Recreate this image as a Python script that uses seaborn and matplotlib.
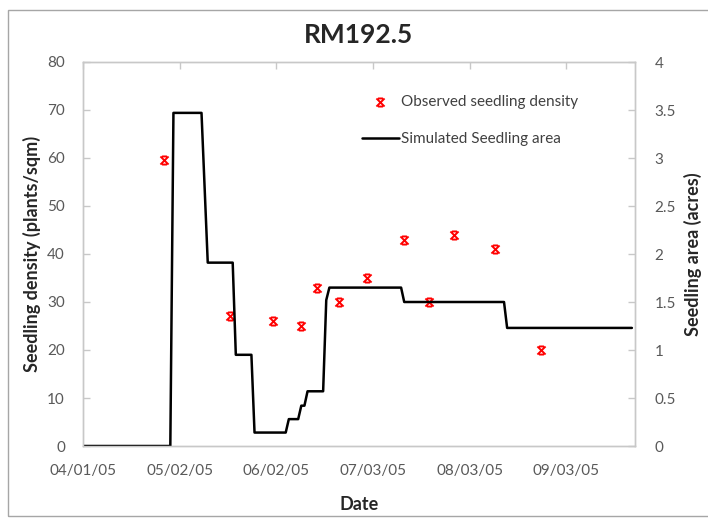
import matplotlib
matplotlib.use("Agg")
import matplotlib.pyplot as plt
import matplotlib.dates as mdates
from matplotlib.ticker import FuncFormatter, MultipleLocator
from matplotlib.patches import Rectangle
from matplotlib.path import Path
import pandas as pd
import seaborn as sns

sns.set_style("white")
plt.rcParams['font.family'] = ['Lato', 'DejaVu Sans']

# Observed seedling density (plants/sqm)
obs_dates = ['2005-04-27', '2005-05-18', '2005-06-01', '2005-06-10', '2005-06-15', '2005-06-22',
             '2005-07-01', '2005-07-13', '2005-07-21', '2005-07-29', '2005-08-11', '2005-08-26']
obs_density = [59.5, 27, 26, 25, 33, 30, 35, 43, 30, 44, 41, 20]

# Simulated seedling area (acres), vertices of the curve
sim_dates = ['2005-04-01', '2005-04-29', '2005-04-30', '2005-05-09', '2005-05-11', '2005-05-19',
             '2005-05-20', '2005-05-25', '2005-05-26', '2005-06-05', '2005-06-06', '2005-06-09',
             '2005-06-10', '2005-06-11', '2005-06-12', '2005-06-17', '2005-06-18', '2005-06-19',
             '2005-07-12', '2005-07-13', '2005-08-14', '2005-08-15', '2005-09-24']
sim_area = [0, 0, 3.47, 3.47, 1.91, 1.91,
            0.95, 0.95, 0.14, 0.14, 0.28, 0.28,
            0.42, 0.42, 0.57, 0.57, 1.52, 1.65,
            1.65, 1.5, 1.5, 1.23, 1.23]

tick_dates = ['2005-04-01', '2005-05-02', '2005-06-02', '2005-07-03', '2005-08-03', '2005-09-03']

df_obs = pd.DataFrame({'Date': pd.to_datetime(obs_dates), 'Density': obs_density})
df_sim = pd.DataFrame({'Date': pd.to_datetime(sim_dates), 'Area': sim_area})

# Excel-like star marker: an X with short bars on top and bottom
star = Path([(-1, -1), (1, 1), (-1, 1), (1, -1), (-0.6, 1), (0.6, 1), (-0.6, -1), (0.6, -1)],
            [Path.MOVETO, Path.LINETO] * 4)

fig = plt.figure(figsize=(7.08, 5.18), dpi=100)
ax = fig.add_axes([83 / 708, 1 - 446 / 518, 552 / 708, 384 / 518])
ax2 = ax.twinx()

# outer chart border
fig.patches.append(Rectangle((8 / 708, 2 / 518), 1.2, 1 - 12 / 518, transform=fig.transFigure,
                             fill=False, edgecolor='#a6a6a6', linewidth=1))

sns.scatterplot(ax=ax, data=df_obs, x='Date', y='Density', marker=star, s=34,
                color='red', edgecolor='red', linewidth=1.4, zorder=4,
                label='Observed seedling density', legend=False)
sns.lineplot(ax=ax2, data=df_sim, x='Date', y='Area', color='black', linewidth=1.8,
             label='Simulated Seedling area', legend=False)

ax.set_xlim(pd.Timestamp('2005-04-01'), pd.Timestamp('2005-09-25'))
ax.set_ylim(0, 80)
ax2.set_ylim(0, 4)
ax.yaxis.set_major_locator(MultipleLocator(10))
ax2.yaxis.set_major_locator(MultipleLocator(0.5))
ax2.yaxis.set_major_formatter(FuncFormatter(lambda v, p: f'{v:g}'))
ax.set_xticks(pd.to_datetime(tick_dates))
ax.xaxis.set_major_formatter(mdates.DateFormatter('%m/%d/%y'))

spine_col = '#c8c8c8'
for a in (ax, ax2):
    for s in a.spines.values():
        s.set_color(spine_col)
        s.set_linewidth(1)
ax.tick_params(axis='x', direction='in', length=5, width=1, color=spine_col, top=True,
               labelsize=11, labelcolor='#595959', pad=13)
ax.tick_params(axis='y', direction='in', length=5, width=1, color=spine_col,
               labelsize=11, labelcolor='#595959', pad=13)
ax2.tick_params(axis='y', direction='in', length=5, width=1, color=spine_col,
                labelsize=11, labelcolor='#595959', pad=14)

ax.set_title('RM192.5', fontsize=19, fontweight='bold', pad=14)
ax.set_xlabel('Date', fontsize=13, fontweight='bold')
ax.xaxis.set_label_coords(0.5, -0.13)
ax.set_ylabel('Seedling density (plants/sqm)', fontsize=13, fontweight='bold', va='center')
ax.yaxis.set_label_coords(-0.092, 0.5)
ax2.set_ylabel('Seedling area (acres)', fontsize=13, fontweight='bold', va='center', rotation=90)
ax2.yaxis.set_label_coords(1.105, 0.5)

h1, l1 = ax.get_legend_handles_labels()
h2, l2 = ax2.get_legend_handles_labels()
leg = ax2.legend(h1 + h2, l1 + l2, loc='upper left', bbox_to_anchor=(362 / 708, 1 - 95 / 518),
                 bbox_transform=fig.transFigure, frameon=False, fontsize=11,
                 handlelength=2.4, handletextpad=0.15, labelspacing=1.5,
                 borderpad=0, borderaxespad=0)
for t in leg.get_texts():
    t.set_color('#404040')

fig.savefig('out.png', dpi=100)
